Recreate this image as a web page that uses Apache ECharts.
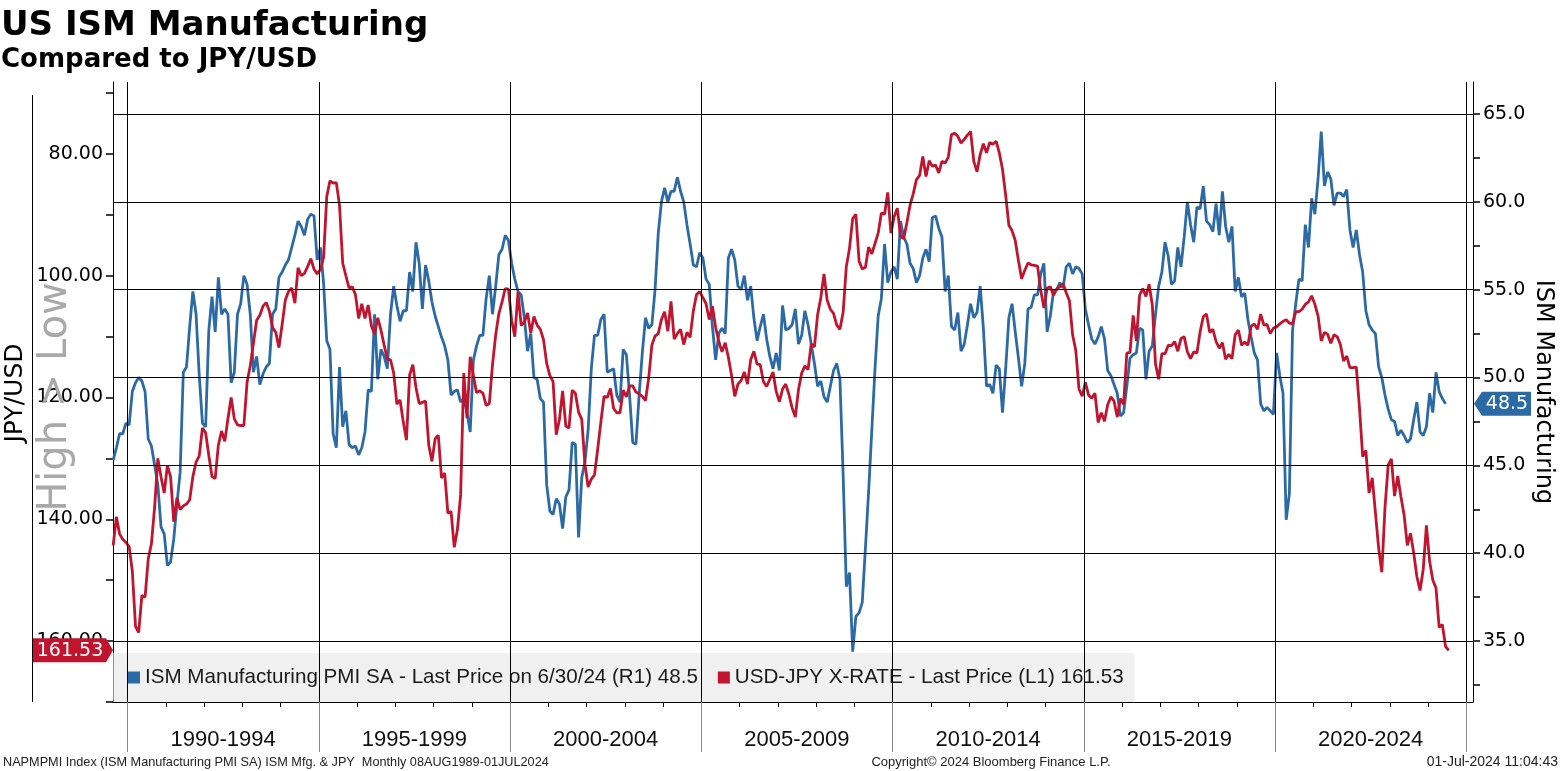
<!DOCTYPE html>
<html>
<head>
<meta charset="utf-8">
<script src="https://cdn.jsdelivr.net/npm/echarts@6/dist/echarts.min.js"></script>
<style>
html,body{margin:0;padding:0;background:#fff;}
#c{width:1561px;height:771px;}
</style>
</head>
<body>
<div id="c"></div>
<script>
// ---------------- DATA ----------------
const startYear = 1989, startMonth = 8;   // first monthly observation: Aug 1989

// ISM Manufacturing PMI SA, monthly Aug 1989 .. Jun 2024
const ismValues = [
 45.3,46.0,46.8,46.8,47.4,
 47.3,49.2,49.7,50.0,49.8,49.2,46.5,46.1,45.0,43.9,41.5,41.1,
 39.3,39.5,40.8,42.8,44.6,50.3,50.6,52.9,54.9,53.6,50.1,47.4,
 47.2,52.7,54.6,52.6,55.7,53.6,53.9,53.6,49.7,50.3,53.6,54.2,
 55.8,55.3,53.6,50.3,51.2,49.6,50.2,50.6,50.8,53.6,53.9,55.7,
 56.0,56.4,56.7,57.4,58.1,58.9,58.6,58.1,59.0,59.3,59.2,56.7,
 57.4,55.4,52.1,51.6,46.8,46.0,50.6,47.2,48.1,46.2,46.0,46.1,
 45.6,46.0,46.9,49.3,49.2,53.6,49.9,51.6,51.2,50.5,53.6,55.2,
 54.1,53.2,53.8,53.8,56.0,54.9,57.7,56.5,53.9,56.4,55.5,54.3,
 53.5,52.9,52.3,51.8,51.0,49.0,49.2,49.3,48.6,48.8,48.0,46.9,
 51.0,51.8,52.4,52.4,54.5,55.8,53.6,55.2,57.0,57.3,58.1,57.8,
 56.5,55.6,54.9,54.7,53.4,51.5,52.5,50.0,49.9,48.8,48.6,43.9,
 42.4,42.2,43.1,42.8,41.4,43.2,43.6,46.3,46.2,40.9,44.3,45.2,
 47.0,50.5,52.4,52.4,53.3,53.6,50.3,50.4,50.5,49.0,48.6,51.6,
 51.3,49.0,46.3,46.2,49.0,51.4,53.4,52.8,53.0,55.0,58.2,60.0,
 60.8,60.0,60.6,60.6,61.4,60.6,60.0,58.7,57.6,56.4,56.3,57.1,
 56.8,55.6,55.3,52.9,51.0,52.5,52.8,52.5,56.8,57.3,56.7,55.2,
 55.0,55.8,54.4,55.2,53.4,52.1,52.9,53.6,52.2,51.2,50.5,51.4,
 50.4,54.1,52.7,52.8,53.0,53.9,51.9,52.4,53.8,53.0,51.9,50.8,
 49.5,49.8,48.9,48.6,49.5,50.4,50.8,49.9,44.5,38.1,38.9,34.4,
 36.4,36.6,37.2,40.3,43.5,47.0,50.5,53.5,54.5,57.6,55.4,56.0,
 56.3,55.6,58.9,58.0,57.6,56.5,56.2,55.4,55.8,56.8,57.3,56.6,
 59.1,59.2,58.5,58.0,54.9,55.8,52.9,52.7,53.7,51.5,51.9,53.0,
 54.2,53.4,53.7,55.2,52.8,49.5,49.6,49.1,50.7,50.5,48.0,50.5,
 53.4,54.2,52.6,51.1,49.5,50.8,53.9,54.0,54.7,54.7,55.9,56.5,
 52.6,53.5,54.9,55.0,55.4,55.1,56.3,56.5,55.9,56.3,56.2,55.9,
 53.9,53.0,52.2,51.9,52.3,52.9,52.2,50.4,50.1,49.6,49.1,47.8,
 48.0,49.5,51.1,51.3,51.4,52.8,52.7,49.9,51.5,51.8,53.6,55.2,
 56.0,57.7,56.9,55.3,55.5,57.4,56.3,58.0,60.0,58.7,57.7,59.7,
 59.6,60.9,58.9,58.7,58.3,59.9,58.1,60.6,58.6,57.7,58.6,54.9,
 55.7,54.6,54.8,53.3,52.3,51.4,51.0,48.5,48.1,48.3,48.1,47.9,
 51.4,50.1,49.1,41.9,43.4,52.7,54.2,55.6,55.5,58.7,57.4,60.2,
 59.3,61.3,64.0,60.9,61.7,61.3,59.8,60.5,60.5,60.3,60.7,58.4,
 57.4,58.4,57.0,56.0,53.8,53.0,52.7,52.5,50.6,50.0,49.0,48.2,
 47.6,47.5,46.7,47.0,46.7,46.3,46.5,47.6,48.6,46.9,46.7,47.2,
 49.1,48.0,50.3,49.2,48.8,48.5
];

// USD-JPY X-RATE, monthly Aug 1989 .. Jul 2024
const jpyValues = [
 144.3,139.6,142.4,143.3,143.8,
 144.5,148.5,157.6,158.6,152.5,152.8,146.5,144.0,138.0,130.0,133.0,135.7,
 131.2,133.0,140.4,136.5,138.4,137.8,137.5,136.8,133.0,130.6,129.6,125.0,
 125.8,129.5,133.0,133.3,127.8,125.5,127.2,123.5,120.0,123.5,124.5,124.6,
 124.6,117.5,114.8,111.1,107.3,106.5,105.0,104.4,105.8,108.5,109.3,111.8,
 108.0,104.0,102.6,102.0,104.5,98.7,100.0,99.6,98.5,97.2,98.9,99.7,
 99.0,97.0,87.0,84.4,84.8,84.7,88.4,97.9,100.0,102.0,101.8,103.1,
 107.0,104.6,107.0,104.8,108.2,109.6,106.9,108.9,111.4,113.7,113.8,116.0,
 121.1,120.4,124.0,127.0,116.3,114.6,118.4,121.0,120.8,120.6,127.8,130.5,
 126.8,126.2,133.2,132.4,139.0,138.7,144.6,141.7,136.0,116.0,123.4,113.3,
 116.4,119.2,118.9,119.3,121.3,121.0,114.6,109.7,106.2,104.3,102.1,102.2,
 107.3,110.0,102.7,108.2,107.6,106.1,109.4,106.7,108.1,108.8,110.5,114.4,
 116.4,117.4,126.1,123.6,118.9,124.7,125.0,118.8,119.3,122.4,123.6,131.0,
 134.7,133.4,132.7,128.5,124.0,119.8,120.0,118.5,121.8,122.5,122.5,118.8,
 119.9,118.1,118.1,119.1,119.4,119.8,120.5,116.8,111.4,109.9,109.5,107.2,
 105.9,109.1,104.2,110.4,109.5,108.8,111.3,109.3,110.1,105.8,103.1,102.6,
 103.6,104.6,107.2,105.0,108.5,110.8,112.5,111.0,113.4,116.4,119.8,117.8,
 117.2,115.8,117.8,113.8,112.4,114.5,114.6,117.4,118.2,117.0,115.8,119.0,
 120.7,118.6,117.8,119.5,121.7,123.2,118.7,116.0,114.8,115.4,111.2,111.7,
 106.4,103.6,99.7,104.0,105.5,106.2,108.1,108.8,106.0,98.5,95.5,90.6,
 89.9,97.6,98.9,98.6,95.3,96.4,94.7,93.0,89.7,89.9,86.3,93.0,
 90.3,88.9,93.5,93.9,91.3,88.4,86.5,84.2,83.5,80.4,83.7,81.1,
 82.0,81.8,83.1,81.2,81.5,80.5,76.8,76.6,77.1,78.2,77.6,76.9,
 76.3,81.2,82.9,80.1,78.3,79.8,78.1,78.4,77.9,79.8,82.5,86.8,
 91.7,92.6,94.2,97.5,100.5,99.1,97.9,98.2,98.3,98.4,102.4,105.3,
 102.0,101.8,103.2,102.2,101.8,101.3,102.8,104.1,109.7,112.3,118.6,119.8,
 117.5,119.6,120.1,119.3,124.1,122.5,123.9,121.2,119.9,120.6,123.2,120.2,
 121.1,112.7,112.6,106.5,110.7,103.2,102.1,103.4,101.4,104.8,114.5,117.0,
 112.8,112.8,111.4,111.5,110.8,112.4,110.3,110.0,112.5,113.6,112.5,112.7,
 109.2,106.7,106.3,109.3,108.8,110.8,111.9,111.0,113.7,112.9,113.6,109.7,
 108.9,111.4,110.9,111.4,108.3,107.9,108.8,106.3,108.1,108.0,109.5,108.6,
 108.4,107.9,107.5,107.2,107.8,107.9,105.9,105.9,105.5,104.7,104.3,103.3,
 104.7,106.6,110.7,109.3,109.6,111.1,109.7,110.0,111.3,114.0,113.2,115.1,
 115.1,115.0,121.7,129.7,128.7,135.7,133.2,138.9,144.7,148.7,138.1,131.1,
 130.1,136.2,132.9,136.3,139.3,144.3,142.3,145.5,149.4,151.7,148.2,141.0,
 146.9,150.0,151.3,157.8,157.3,160.9,161.53
];

// axis ticks and labels
const ismTicks = [35, 40, 45, 50, 55, 60, 65];
const ismTickMarks = [32.5, 35, 37.5, 40, 42.5, 45, 47.5, 50, 52.5, 55, 57.5, 60, 62.5, 65];
const jpyTicks = [80, 100, 120, 140, 160];
const jpyTickMarks = [70, 80, 90, 100, 110, 120, 130, 140, 150, 160, 170];
const yearSeparators = [1990, 1995, 2000, 2005, 2010, 2015, 2020, 2025];
const yearTicks = [1991,1992,1993,1994,1996,1997,1998,1999,2001,2002,2003,2004,2006,2007,2008,2009,
                   2011,2012,2013,2014,2016,2017,2018,2019,2021,2022,2023,2024];
const periodCenters = [1992.5, 1997.5, 2002.5, 2007.5, 2012.5, 2017.5, 2022.5];
const periodLabels = ['1990-1994', '1995-1999', '2000-2004', '2005-2009', '2010-2014', '2015-2019', '2020-2024'];

const seriesNames = [
  'ISM Manufacturing PMI SA - Last Price on 6/30/24 (R1) 48.5',
  'USD-JPY X-RATE - Last Price (L1) 161.53'
];
const lastLabels = ['48.5', '161.53'];
const titleText = 'US ISM Manufacturing';
const subtitleText = 'Compared to JPY/USD';
const footerLeft = 'NAPMPMI Index (ISM Manufacturing PMI SA) ISM Mfg. & JPY  Monthly 08AUG1989-01JUL2024';
const footerMid = 'Copyright\u00A9 2024 Bloomberg Finance L.P.';
const footerRight = '01-Jul-2024 11:04:43';

// ---------------- CHART ----------------
const BLUE = '#2c6aa6';
const RED = '#c1142e';
const NARROW = '"Liberation Sans Narrow", "Liberation Sans", Arial, sans-serif';
const SANS = '"DejaVu Sans", Verdana, sans-serif';

const X_MIN = 1989.62, X_MAX = 2025.176;
const ISM_MIN = 31.53, ISM_MAX = 66.82;
const JPY_MIN = 68.17, JPY_MAX = 170.02;

const monthPos = i => startYear + (startMonth - 1 + i + 0.5) / 12;
const ismData = ismValues.map((v, i) => [monthPos(i), v]);
const jpyData = jpyValues.map((v, i) => [monthPos(i), v]);

const chart = echarts.init(document.getElementById('c'), null, {renderer: 'canvas', width: 1561, height: 771});

const option = {
  animation: false,
  backgroundColor: '#ffffff',
  textStyle: {fontFamily: SANS},
  grid: {left: 113, right: 88, top: 82, bottom: 69, containLabel: false, outerBoundsMode: 'none'},
  legend: {
    left: 113, top: 653,
    orient: 'horizontal',
    padding: [12, 11, 12, 15],
    itemWidth: 12, itemHeight: 12, itemGap: 20,
    icon: 'rect',
    selectedMode: false,
    backgroundColor: 'rgba(230,230,230,0.62)',
    borderRadius: [0, 4, 0, 0],
    textStyle: {fontFamily: NARROW, fontSize: 20.6, lineHeight: 25, color: '#1a1a1a'},
    data: seriesNames
  },
  xAxis: [
    {
      type: 'value', min: X_MIN, max: X_MAX, position: 'bottom',
      axisLine: {show: true, onZero: false, lineStyle: {color: '#000', width: 1}},
      axisTick: {show: true, customValues: yearSeparators, length: 50, lineStyle: {color: '#8a8a8a', width: 1}},
      axisLabel: {
        show: true, customValues: periodCenters,
        formatter: v => periodLabels[periodCenters.indexOf(v)] || '',
        fontFamily: NARROW, fontSize: 22, lineHeight: 26, color: '#111', margin: 25
      },
      splitLine: {show: false}
    },
    {
      type: 'value', min: X_MIN, max: X_MAX, position: 'bottom',
      axisLine: {show: false, onZero: false},
      axisTick: {show: true, customValues: yearTicks, length: 5, lineStyle: {color: '#000', width: 1}},
      axisLabel: {show: false},
      splitLine: {show: false}
    }
  ],
  yAxis: [
    {
      type: 'value', position: 'left', inverse: true, min: JPY_MIN, max: JPY_MAX,
      axisLine: {show: true, onZero: false, lineStyle: {color: '#000', width: 1}},
      axisTick: {show: true, customValues: jpyTickMarks, length: 7, lineStyle: {color: '#000', width: 1.5}},
      axisLabel: {show: true, customValues: jpyTicks, formatter: v => v.toFixed(2),
                  fontFamily: SANS, fontSize: 19, color: '#000', margin: 10},
      splitLine: {show: false}
    },
    {
      type: 'value', position: 'right', min: ISM_MIN, max: ISM_MAX,
      axisLine: {show: true, onZero: false, lineStyle: {color: '#000', width: 1}},
      axisTick: {show: true, customValues: ismTickMarks, length: 7, lineStyle: {color: '#000', width: 1.5}},
      axisLabel: {show: true, customValues: ismTicks, formatter: v => v.toFixed(1),
                  fontFamily: SANS, fontSize: 19, color: '#000', margin: 10},
      splitLine: {show: false}
    }
  ],
  series: [
    {
      name: 'gridlines', type: 'line', xAxisIndex: 0, yAxisIndex: 1, data: [],
      silent: true, z: 1, showSymbol: false,
      markLine: {
        silent: true, symbol: ['none', 'none'], animation: false,
        label: {show: false},
        lineStyle: {color: '#000', width: 1, type: 'solid'},
        emphasis: {disabled: true},
        data: ismTicks.map(v => ({yAxis: v})).concat(yearSeparators.map(v => ({xAxis: v})))
      }
    },
    {
      name: seriesNames[0], type: 'line', xAxisIndex: 0, yAxisIndex: 1, data: ismData,
      showSymbol: false, symbol: 'none', silent: true, z: 3,
      lineStyle: {color: BLUE, width: 2.8}, itemStyle: {color: BLUE}
    },
    {
      name: seriesNames[1], type: 'line', xAxisIndex: 0, yAxisIndex: 0, data: jpyData,
      showSymbol: false, symbol: 'none', silent: true, z: 4,
      lineStyle: {color: RED, width: 2.8}, itemStyle: {color: RED}
    }
  ]
};

chart.setOption(option);

// value tags placed through the axes' own scales
const yRed = chart.convertToPixel({yAxisIndex: 0}, jpyValues[jpyValues.length - 1]);
const yBlue = chart.convertToPixel({yAxisIndex: 1}, ismValues[ismValues.length - 1]);
const hh = 12;

chart.setOption({
  graphic: [
    {type: 'text', x: 1, y: 26, z: 50,
     style: {text: titleText, fontFamily: SANS, fontWeight: 'bold', fontSize: 34, fill: '#000', align: 'left', verticalAlign: 'middle'}},
    {type: 'text', x: 1, y: 60, z: 50,
     style: {text: subtitleText, fontFamily: SANS, fontWeight: 'bold', fontSize: 26, fill: '#000', align: 'left', verticalAlign: 'middle'}},
    {type: 'line', z: 50, shape: {x1: 32.5, y1: 95, x2: 32.5, y2: 702}, style: {stroke: '#000', lineWidth: 1}},
    {type: 'text', x: 15, y: 393, rotation: Math.PI / 2, z: 50,
     style: {text: 'JPY/USD', fontFamily: SANS, fontSize: 25, fill: '#000', align: 'center', verticalAlign: 'middle'}},
    {type: 'text', x: 56, y: 397, rotation: Math.PI / 2, z: 49,
     style: {text: 'High > Low', fontFamily: SANS, fontSize: 40, fill: '#a9a9a9', align: 'center', verticalAlign: 'middle'}},
    {type: 'text', x: 1543, y: 392, rotation: -Math.PI / 2, z: 50,
     style: {text: 'ISM Manufacturing', fontFamily: SANS, fontSize: 24, fill: '#000', align: 'center', verticalAlign: 'middle'}},
    {type: 'polygon', z: 60,
     shape: {points: [[33, yRed - hh], [106, yRed - hh], [113, yRed], [106, yRed + hh], [33, yRed + hh]]},
     style: {fill: RED}},
    {type: 'text', x: 70, y: yRed + 0.5, z: 61,
     style: {text: lastLabels[1], fontFamily: SANS, fontSize: 19, fill: '#fff', align: 'center', verticalAlign: 'middle'}},
    {type: 'polygon', z: 60,
     shape: {points: [[1474, yBlue], [1482, yBlue - hh], [1531, yBlue - hh], [1531, yBlue + hh], [1482, yBlue + hh]]},
     style: {fill: BLUE}},
    {type: 'text', x: 1507, y: yBlue + 0.5, z: 61,
     style: {text: lastLabels[0], fontFamily: SANS, fontSize: 19, fill: '#fff', align: 'center', verticalAlign: 'middle'}},
    {type: 'text', x: 3, y: 762, z: 50,
     style: {text: footerLeft, fontFamily: NARROW, fontSize: 12.7, fill: '#222', align: 'left', verticalAlign: 'middle'}},
    {type: 'text', x: 991, y: 762, z: 50,
     style: {text: footerMid, fontFamily: NARROW, fontSize: 13, fill: '#222', align: 'center', verticalAlign: 'middle'}},
    {type: 'text', x: 1558, y: 762, z: 50,
     style: {text: footerRight, fontFamily: NARROW, fontSize: 14, fill: '#222', align: 'right', verticalAlign: 'middle'}}
  ]
});
</script>
</body>
</html>
